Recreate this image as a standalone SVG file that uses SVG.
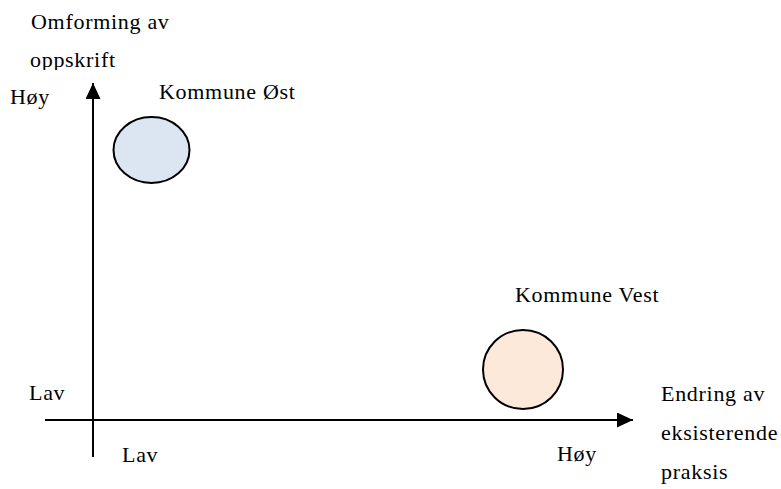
<svg xmlns="http://www.w3.org/2000/svg" width="781" height="489" viewBox="0 0 781 489">
  <style>
    .t { font-family: 'Liberation Serif', 'Times New Roman', Times, serif; font-size: 22px; fill: #000; letter-spacing: 0.7px; }
    .axis { stroke: #000; stroke-width: 2; fill: none; }
    .node { stroke: #000; stroke-width: 2; }
  </style>
  <defs>
    <marker id="arrow" viewBox="0 0 16 15" refX="16" refY="7.5" markerWidth="16" markerHeight="15" markerUnits="userSpaceOnUse" orient="auto">
      <path d="M0,0 L16,7.5 L0,15 Z" fill="#000"/>
    </marker>
    <clipPath id="clipTop">
      <rect x="0" y="0" width="300" height="70"/>
    </clipPath>
  </defs>
  <rect width="781" height="489" fill="#fff"/>

  <g id="connectors">
    <line class="axis" x1="93" y1="457" x2="93" y2="83" marker-end="url(#arrow)"/>
    <line class="axis" x1="45" y1="420" x2="633" y2="420" marker-end="url(#arrow)"/>
  </g>

  <g id="axis-labels" font-family="Liberation Serif, serif">
    <g clip-path="url(#clipTop)">
      <text class="t" x="31" y="29">Omforming av</text>
      <text class="t" x="30" y="67">oppskrift</text>
    </g>
    <text class="t" x="10" y="104">Høy</text>
    <text class="t" x="29" y="400">Lav</text>
    <text class="t" x="122" y="462">Lav</text>
    <text class="t" x="557" y="461">Høy</text>
    <text class="t" x="661" y="401">Endring av</text>
    <text class="t" x="661" y="440">eksisterende</text>
    <text class="t" x="661" y="479">praksis</text>
  </g>

  <g id="kommune-ost">
    <ellipse class="node" cx="151.5" cy="150" rx="38" ry="33" fill="#dce6f2"/>
    <text class="t" x="159" y="99">Kommune Øst</text>
  </g>

  <g id="kommune-vest">
    <ellipse class="node" cx="523" cy="369.5" rx="40" ry="39.5" fill="#fde9d9"/>
    <text class="t" x="515" y="302">Kommune Vest</text>
  </g>
</svg>
